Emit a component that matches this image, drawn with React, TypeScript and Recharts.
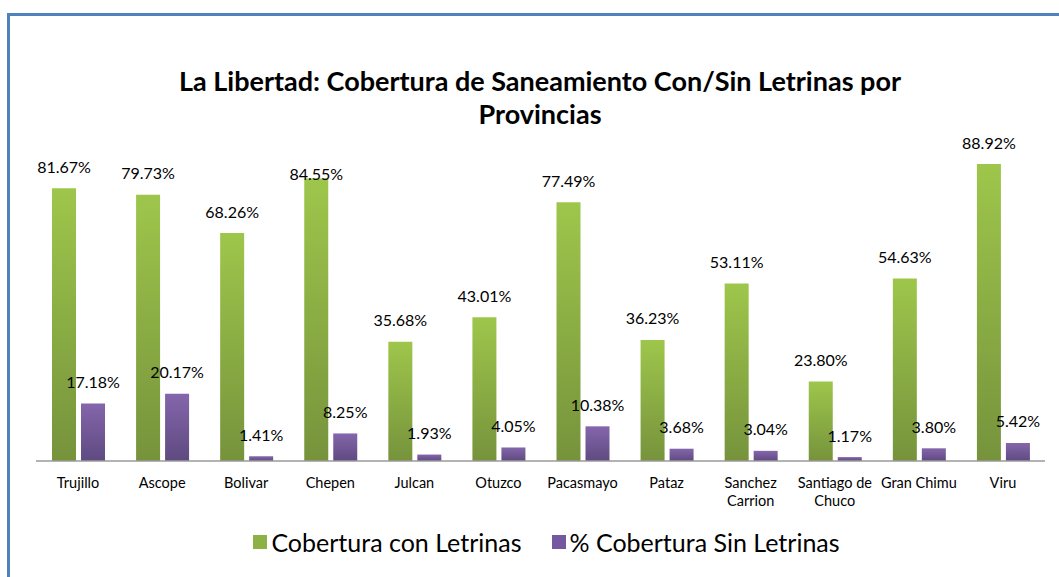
import { BarChart, Bar, XAxis, YAxis, LabelList } from 'recharts';

const provincias = [
  'Trujillo', 'Ascope', 'Bolivar', 'Chepen', 'Julcan', 'Otuzco',
  'Pacasmayo', 'Pataz', 'Sanchez Carrion', 'Santiago de Chuco', 'Gran Chimu', 'Viru',
];
const conLetrinas = [81.67, 79.73, 68.26, 84.55, 35.68, 43.01, 77.49, 36.23, 53.11, 23.8, 54.63, 88.92];
const sinLetrinas = [17.18, 20.17, 1.41, 8.25, 1.93, 4.05, 10.38, 3.68, 3.04, 1.17, 3.8, 5.42];

const data = provincias.map((name, i) => ({
  name,
  con: conLetrinas[i],
  sin: sinLetrinas[i],
}));

const FONT = 'Lato, "Open Sans", sans-serif';

// split long province names in two lines, like excel does
const wrap = (s: string, max = 11) => {
  const words = s.split(' ');
  const lines: string[] = [];
  let cur = '';
  words.forEach((w) => {
    if (!cur) cur = w;
    else if ((cur + ' ' + w).length <= max) cur += ' ' + w;
    else {
      lines.push(cur);
      cur = w;
    }
  });
  if (cur) lines.push(cur);
  return lines;
};

const ProvinciaTick = (props: any) => {
  const { x, y, payload } = props;
  const lines = wrap(payload.value);
  return (
    <text x={x} y={y} textAnchor="middle" fontFamily={FONT} fontSize={14.5} fill="#000">
      {lines.map((l, i) => (
        <tspan key={i} x={x} dy={i === 0 ? 19 : 18}>
          {l}
        </tspan>
      ))}
    </text>
  );
};

const makeLabel = (series: string) => (props: any) => {
  const { x, y, width, value, index } = props;
  // the Chepen label sits lower in the original
  const dy = series === 'con' && provincias[index] === 'Chepen' ? -5 : -22;
  return (
    <text
      x={x + width / 2}
      y={y + dy}
      textAnchor="middle"
      dominantBaseline="central"
      fontFamily={FONT}
      fontSize={16}
      fill="#000"
    >
      {value.toFixed(2)}%
    </text>
  );
};

const legendItems = [
  { label: 'Cobertura con Letrinas', color: '#8DB144' },
  { label: '% Cobertura Sin Letrinas', color: '#7559A0' },
];

const App = () => {
  return (
    <div style={{ position: 'relative', width: 1059, height: 577, overflow: 'hidden', background: '#fff' }}>
      <style>{'body{margin:0;overflow:hidden}'}</style>
      <div
        style={{
          position: 'absolute',
          left: 7,
          top: 13,
          width: 1100,
          height: 600,
          borderTop: '3px solid #4F81BD',
          borderLeft: '3px solid #4F81BD',
        }}
      />
      <div
        style={{
          position: 'absolute',
          left: 0,
          top: 64,
          width: 1080,
          textAlign: 'center',
          fontFamily: FONT,
          fontWeight: 700,
          fontSize: 27,
          lineHeight: '33px',
          color: '#000',
        }}
      >
        La Libertad: Cobertura de Saneamiento Con/Sin Letrinas por
        <br />
        Provincias
      </div>
      <div style={{ position: 'absolute', left: 0, top: 0 }}>
        <BarChart
          width={1059}
          height={577}
          data={data}
          margin={{ top: 127, right: 14, bottom: 86, left: 36 }}
          barCategoryGap={16}
          barGap={5}
        >
          <defs>
            <linearGradient id="gCon" x1="0" y1="0" x2="0" y2="1">
              <stop offset="0%" stopColor="#9EC64B" />
              <stop offset="100%" stopColor="#76933C" />
            </linearGradient>
            <linearGradient id="gSin" x1="0" y1="0" x2="0" y2="1">
              <stop offset="0%" stopColor="#8466AC" />
              <stop offset="100%" stopColor="#5F4A80" />
            </linearGradient>
          </defs>
          <XAxis
            dataKey="name"
            height={30}
            tickLine={false}
            axisLine={{ stroke: '#9A9A9A', strokeWidth: 1.5 }}
            tick={<ProvinciaTick />}
            interval={0}
          />
          <YAxis hide domain={[0, 100]} />
          <Bar dataKey="con" fill="url(#gCon)" isAnimationActive={false}>
            <LabelList dataKey="con" content={makeLabel('con')} />
          </Bar>
          <Bar dataKey="sin" fill="url(#gSin)" isAnimationActive={false}>
            <LabelList dataKey="sin" content={makeLabel('sin')} />
          </Bar>
        </BarChart>
      </div>
      <div
        style={{
          position: 'absolute',
          left: 0,
          top: 527,
          width: 1093,
          display: 'flex',
          justifyContent: 'center',
          gap: 30,
          fontFamily: FONT,
          fontSize: 25,
          color: '#000',
        }}
      >
        {legendItems.map((it) => (
          <div key={it.label} style={{ display: 'flex', alignItems: 'center' }}>
            <span style={{ width: 14, height: 14, background: it.color, marginRight: 4, display: 'inline-block' }} />
            <span>{it.label}</span>
          </div>
        ))}
      </div>
    </div>
  );
};

export default App;
